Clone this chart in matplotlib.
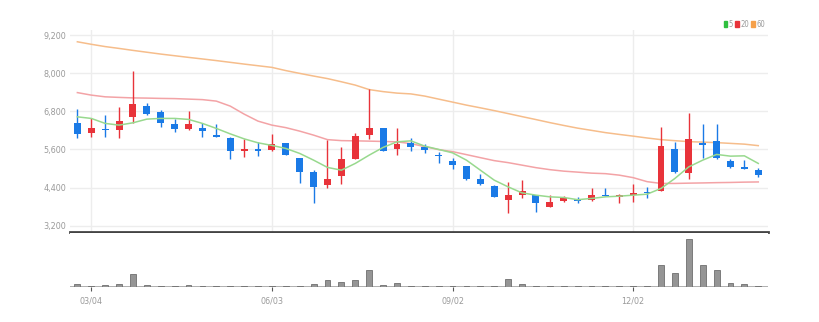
import numpy as np
import pandas as pd
import matplotlib
matplotlib.use('Agg')
from matplotlib import pyplot as plt
from matplotlib.patches import Patch

# weekly candles, 2024-02-26 .. 2025-02-03
dates = pd.date_range('2024-02-26', periods=50, freq='W-MON')

opens = [6420, 6125, 6250, 6210, 6607, 6963, 6765, 6400, 6250, 6260,
         6040, 5945, 5556, 5600, 5577, 5790, 5316, 4885, 4475, 4758,
         5304, 6050, 6260, 5600, 5790, 5665, 5440, 5230, 5073, 4665,
         4443, 4003, 4160, 4170, 3782, 3970, 4024, 4003, 4180, 4107,
         4150, 4264, 4276, 5600, 4843, 5808, 5871, 5241, 5050, 4947]
closes = [6080, 6270, 6210, 6500, 7027, 6710, 6440, 6250, 6387, 6185,
          6000, 5545, 5600, 5560, 5766, 5440, 4875, 4420, 4665, 5285,
          6018, 6270, 5556, 5766, 5665, 5580, 5390, 5105, 4655, 4505,
          4107, 4160, 4296, 3898, 3930, 4065, 3971, 4170, 4128, 4160,
          4213, 4213, 5694, 4875, 5924, 5745, 5316, 5033, 4990, 4790]
highs = [6860, 6575, 6680, 6940, 8066, 7070, 6840, 6545, 6815, 6420,
         6390, 5980, 5925, 5820, 6100, 5810, 5335, 4950, 5890, 5665,
         6125, 7490, 6270, 6260, 5945, 5765, 5505, 5335, 5080, 4820,
         4485, 4580, 4630, 4170, 4160, 4130, 4107, 4370, 4370, 4185,
         4500, 4420, 6312, 5840, 6734, 6387, 6387, 5285, 5260, 5000]
lows = [5950, 6000, 6000, 5945, 6420, 6680, 6310, 6155, 6210, 5980,
        5980, 5285, 5370, 5390, 5556, 5410, 4550, 3900, 4400, 4505,
        5285, 5915, 5550, 5420, 5556, 5495, 5180, 4970, 4650, 4475,
        4090, 3585, 4056, 3635, 3772, 3950, 3918, 3971, 4128, 3900,
        3950, 4056, 4276, 4862, 4654, 5316, 5285, 5000, 4985, 4718]
volumes = [54000, 14000, 40000, 54000, 254000, 40000, 20000, 20000, 40000, 20000,
           20000, 20000, 20000, 6000, 14000, 6000, 20000, 54000, 146000, 100000,
           134000, 334000, 46000, 80000, 20000, 10000, 6000, 10000, 6000, 6000,
           6000, 160000, 54000, 20000, 6000, 6000, 6000, 14000, 6000, 6000,
           14000, 6000, 434000, 286000, 966000, 446000, 346000, 86000, 54000, 20000]

ma5 = [6626, 6576, 6419, 6365, 6438, 6554, 6576, 6576, 6545, 6419,
       6261, 6090, 5933, 5808, 5726, 5631, 5474, 5262, 5033, 4947,
       5159, 5420, 5663, 5839, 5870, 5703, 5600, 5492, 5262, 4947,
       4632, 4421, 4232, 4160, 4107, 4087, 4018, 4056, 4107, 4128,
       4160, 4191, 4371, 4686, 5051, 5262, 5442, 5388, 5398, 5159]
ma20 = [7389, 7310, 7256, 7238, 7222, 7216, 7206, 7200, 7184, 7168,
        7121, 6964, 6712, 6491, 6365, 6286, 6176, 6050, 5908, 5877,
        5870, 5861, 5851, 5839, 5782, 5688, 5593, 5530, 5436, 5341,
        5247, 5184, 5105, 5026, 4963, 4916, 4885, 4853, 4837, 4790,
        4711, 4585, 4529, 4529, 4538, 4545, 4554, 4560, 4570, 4576]
ma60 = [8989, 8910, 8838, 8780, 8718, 8660, 8602, 8550, 8498, 8448,
        8397, 8342, 8287, 8235, 8183, 8082, 7994, 7910, 7830, 7730,
        7625, 7484, 7420, 7373, 7348, 7279, 7184, 7090, 6995, 6910,
        6822, 6728, 6633, 6540, 6444, 6355, 6270, 6200, 6129, 6072,
        6018, 5960, 5908, 5875, 5845, 5830, 5814, 5790, 5766, 5719]

tick_labels = ['03/04', '06/03', '09/02', '12/02']
y_ticks = [3200, 4400, 5600, 6800, 8000, 9200]

UP = '#e8333a'
DOWN = '#1a7ae6'
GRID = '#ededed'
TXT = '#9a9a9a'

plt.rcParams['font.family'] = ['DejaVu Sans']
plt.rcParams['font.stretch'] = 'condensed'

fig = plt.figure(figsize=(8.2, 3.22), dpi=100)
ax = fig.add_axes([70 / 820, 1 - 232 / 322, 698 / 820, 202 / 322])
axv = fig.add_axes([70 / 820, 1 - 287 / 322, 698 / 820, 54 / 322])

x = np.arange(len(opens))
o = np.array(opens)
c = np.array(closes)
colors = [UP if cc >= oo else DOWN for oo, cc in zip(o, c)]

ax.vlines(x, lows, highs, colors=colors, linewidth=1, zorder=3)
body_bottom = np.minimum(o, c)
body_h = np.maximum(np.abs(c - o), 30)
ax.bar(x, body_h, bottom=body_bottom, width=0.5, color=colors, zorder=4)

ax.plot(x, ma60, color='#f6bd8b', linewidth=1.1, zorder=2)
ax.plot(x, ma20, color='#f3a3a6', linewidth=1.1, zorder=2)
ax.plot(x, ma5, color='#98d98e', linewidth=1.1, zorder=5)

ax.set_xlim(-0.53, 49.7)
ax.set_ylim(3000, 9360)
ax.set_yticks(y_ticks)
ax.set_yticklabels(['{:,}'.format(v) for v in y_ticks], fontsize=6.5, color=TXT)
ax.tick_params(axis='y', length=0, pad=3)
tick_pos = [i for i, d in enumerate(dates) if d.strftime('%m/%d') in tick_labels]
ax.set_xticks(tick_pos)
ax.tick_params(axis='x', length=0, labelbottom=False)
ax.grid(True, color=GRID, linewidth=1)
ax.set_axisbelow(True)
for s in ['top', 'left', 'right']:
    ax.spines[s].set_visible(False)
ax.spines['bottom'].set_color('#444444')
ax.spines['bottom'].set_linewidth(2)

axv.axhline(0, color='#a8a8a8', linewidth=2, zorder=0.5)
axv.bar(x, np.maximum(volumes, 12000), width=0.42, color='#959595', edgecolor='#6f6f6f',
        linewidth=0.6, zorder=2)
axv.set_xlim(-0.53, 49.7)
axv.set_ylim(0, 1080000)
axv.set_yticks([])
axv.set_xticks(tick_pos)
axv.set_xticklabels([dates[i].strftime('%m/%d') for i in tick_pos], fontsize=6.5, color=TXT)
axv.tick_params(axis='x', length=3, color='#555555', pad=4)
for s in ['top', 'left', 'right', 'bottom']:
    axv.spines[s].set_visible(False)

handles = [Patch(color='#2fbf3f'), Patch(color='#e8333a'), Patch(color='#f5a04a')]
fig.legend(handles, ['5', '20', '60'], loc='upper right', bbox_to_anchor=(772 / 820, 1 - 13 / 322),
           ncol=3, frameon=False, fontsize=5.5, handlelength=0.45, handleheight=0.9,
           handletextpad=0.2, columnspacing=0.3, labelcolor=TXT)

fig.savefig('out.png', dpi=100, facecolor='white')
